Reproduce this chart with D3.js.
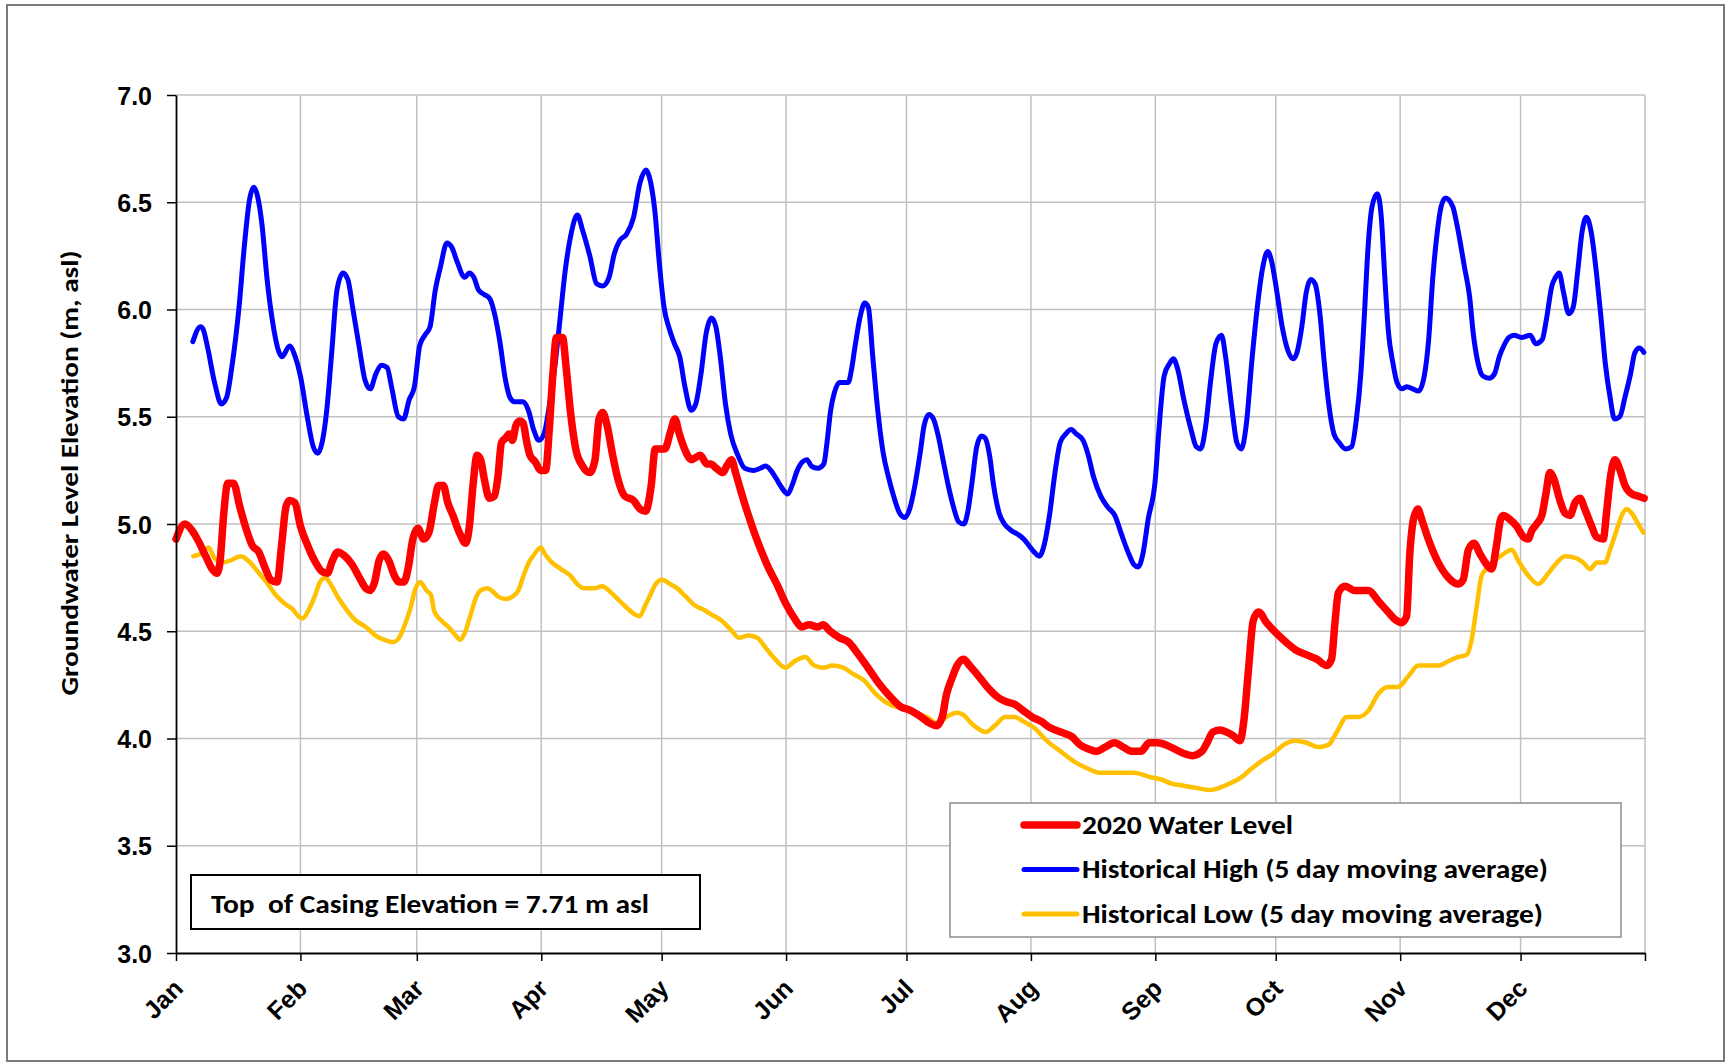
<!DOCTYPE html>
<html>
<head>
<meta charset="utf-8">
<script src="https://cdn.jsdelivr.net/npm/d3@7"></script>
<style>
  body { margin: 0; background: #fff; }
  svg { display: block; }
  .tick-label { font-family: "Liberation Sans", Arial, sans-serif; font-weight: bold; font-size: 25px; fill: #000; }
  .cal { font-family: Calibri, Carlito, Lato, sans-serif; font-weight: bold; fill: #000; }
</style>
</head>
<body>
<svg id="chart" width="1726" height="1064"></svg>
<script>
// Groundwater level chart, 2020 vs historical high / low (5 day moving average)
// Points are [day of year, elevation m asl].

const monthLabels = ["Jan", "Feb", "Mar", "Apr", "May", "Jun", "Jul", "Aug", "Sep", "Oct", "Nov", "Dec", ""];
const yTicks = [3.0, 3.5, 4.0, 4.5, 5.0, 5.5, 6.0, 6.5, 7.0];
const seriesNames = ["2020 Water Level", "Historical High (5 day moving average)", "Historical Low (5 day moving average)"];
const casingNote = "Top  of Casing Elevation = 7.71 m asl";
const yTitle = "Groundwater Level Elevation (m, asl)";

const level2020 = [
  [0,4.93],[2.2,5.00],[4.0,4.97],[5.6,4.92],[7.4,4.85],[9.0,4.79],[10.2,4.77],[11.0,4.83],[11.9,5.05],[12.9,5.19],
  [14.3,5.19],[15.9,5.08],[17.6,4.97],[19.0,4.90],[20.6,4.87],[22.1,4.80],[23.6,4.74],[25.2,4.73],[26.3,4.90],[27.4,5.08],
  [28.3,5.11],[29.6,5.10],[31.0,4.99],[32.8,4.90],[34.5,4.83],[36.3,4.78],[37.7,4.77],[39.0,4.83],[40.3,4.87],[42.1,4.85],
  [43.9,4.81],[45.7,4.75],[47.3,4.70],[48.3,4.69],[49.5,4.73],[50.6,4.83],[51.7,4.86],[53.0,4.83],[54.4,4.76],[55.6,4.73],
  [56.8,4.73],[57.9,4.80],[59.0,4.93],[60.3,4.98],[61.7,4.93],[63.0,4.96],[64.4,5.10],[65.4,5.18],[66.6,5.18],[67.7,5.10],
  [69.0,5.04],[70.6,4.96],[72.2,4.91],[73.1,4.99],[74.0,5.18],[75.0,5.32],[75.9,5.30],[76.8,5.21],[78.1,5.12],[79.3,5.13],
  [80.2,5.22],[81.1,5.38],[82.1,5.40],[83.0,5.42],[83.8,5.39],[84.7,5.46],[85.6,5.48],[86.5,5.47],[87.3,5.39],[88.2,5.32],
  [89.5,5.29],[90.8,5.25],[92.1,5.25],[93.0,5.44],[93.9,5.70],[94.8,5.87],[96.3,5.87],[97.2,5.73],[98.3,5.52],[99.6,5.35],
  [101.3,5.27],[103.1,5.24],[104.4,5.30],[105.4,5.49],[106.3,5.52],[107.4,5.46],[108.7,5.33],[110.1,5.21],[111.8,5.13],[114.0,5.11],
  [115.6,5.07],[117.0,5.06],[118.4,5.18],[119.4,5.35],[120.5,5.35],[121.8,5.35],[123.2,5.43],[124.3,5.49],[125.4,5.42],[126.7,5.35],
  [128.4,5.30],[130.6,5.32],[132.3,5.28],[133.2,5.28],[134.6,5.26],[136.3,5.24],[137.2,5.27],[138.4,5.30],[139.4,5.24],[140.8,5.15],
  [142.1,5.07],[143.9,4.97],[145.7,4.88],[147.5,4.80],[149.7,4.72],[151.9,4.63],[154.1,4.56],[155.9,4.52],[157.7,4.53],[159.9,4.52],
  [161.2,4.53],[163.0,4.50],[165.3,4.47],[167.5,4.45],[169.7,4.40],[172.4,4.33],[175.0,4.26],[177.7,4.20],[180.4,4.15],[183.1,4.13],
  [185.7,4.10],[187.9,4.07],[189.5,4.06],[190.9,4.10],[191.9,4.20],[193.3,4.28],[194.6,4.34],[196.2,4.37],[197.7,4.34],[200.0,4.29],
  [202.6,4.23],[204.9,4.19],[207.1,4.17],[208.9,4.16],[211.1,4.13],[213.3,4.10],[215.5,4.08],[217.8,4.05],[220.4,4.03],[223.1,4.01],
  [225.3,3.97],[227.5,3.95],[229.3,3.94],[231.5,3.96],[233.8,3.98],[236.0,3.96],[238.2,3.94],[240.4,3.94],[242.5,3.98],[244.4,3.98],
  [246.7,3.97],[248.9,3.95],[251.1,3.93],[253.3,3.92],[255.6,3.94],[256.9,3.98],[258.3,4.03],[260.0,4.04],[261.8,4.03],[263.6,4.01],
  [265.1,3.99],[266.1,4.09],[267.2,4.32],[268.4,4.55],[269.7,4.59],[271.7,4.54],[274.2,4.49],[277.1,4.44],[279.2,4.41],[281.7,4.39],
  [284.2,4.37],[286.7,4.34],[287.9,4.37],[288.8,4.55],[289.6,4.68],[291.3,4.71],[293.7,4.69],[297.1,4.69],[299.6,4.64],[302.0,4.59],
  [304.1,4.55],[305.4,4.54],[306.6,4.57],[307.4,4.86],[308.3,5.02],[309.4,5.07],[310.4,5.02],[312.0,4.93],[314.5,4.82],[317.0,4.75],
  [319.5,4.72],[320.7,4.74],[322.0,4.88],[323.4,4.91],[324.9,4.86],[326.6,4.81],[327.8,4.79],[329.0,4.90],[330.0,5.02],[330.7,5.04],
  [332.4,5.02],[334.0,4.99],[335.7,4.94],[336.9,4.93],[337.8,4.97],[339.0,5.00],[340.3,5.04],[341.3,5.14],[342.3,5.24],[343.3,5.21],
  [344.8,5.11],[346.1,5.05],[347.3,5.04],[348.6,5.10],[349.8,5.12],[351.0,5.07],[352.7,4.99],[353.9,4.94],[355.6,4.93],[356.4,5.05],
  [357.4,5.22],[358.5,5.30],[359.8,5.25],[361.0,5.18],[362.7,5.14],[364.3,5.13],[365.8,5.12]
];

const historicalHigh = [
  [4.2,5.85],[6.1,5.92],[6.7,5.91],[7.8,5.83],[9.6,5.66],[11.3,5.56],[12.6,5.59],[13.9,5.73],[15.7,6.01],[17.0,6.29],
  [18.3,6.51],[19.4,6.57],[20.3,6.53],[21.4,6.40],[22.7,6.14],[24.0,5.95],[25.5,5.81],[26.4,5.78],[28.3,5.83],[29.7,5.78],
  [31.0,5.69],[32.7,5.50],[34.2,5.36],[35.3,5.33],[36.4,5.38],[37.5,5.52],[38.8,5.80],[40.1,6.09],[41.6,6.17],[42.8,6.14],
  [44.1,6.00],[45.6,5.83],[47.1,5.67],[48.4,5.63],[49.8,5.70],[51.2,5.74],[52.6,5.73],[53.7,5.64],[55.4,5.50],[56.7,5.49],
  [58.1,5.58],[59.4,5.64],[60.7,5.83],[62.0,5.88],[63.3,5.92],[64.6,6.09],[65.9,6.20],[67.5,6.31],[68.7,6.29],[70.1,6.22],
  [71.9,6.15],[73.1,6.17],[74.2,6.15],[75.4,6.09],[76.8,6.07],[78.2,6.05],[79.5,5.97],[80.6,5.86],[82.1,5.67],[83.2,5.59],
  [84.3,5.57],[86.5,5.57],[87.8,5.53],[89.1,5.44],[90.4,5.39],[91.7,5.42],[93.0,5.55],[94.3,5.72],[95.6,5.94],[96.9,6.17],
  [98.3,6.34],[100.0,6.44],[101.3,6.37],[103.1,6.25],[104.8,6.12],[106.3,6.11],[107.9,6.15],[109.2,6.26],[110.5,6.32],[112.2,6.35],
  [114.0,6.43],[115.6,6.59],[117.1,6.65],[117.9,6.62],[119.3,6.46],[120.4,6.22],[121.6,6.01],[122.9,5.91],[124.2,5.84],[125.5,5.78],
  [126.8,5.64],[128.4,5.53],[129.5,5.56],[130.8,5.70],[132.1,5.89],[133.4,5.96],[134.5,5.92],[135.6,5.78],[136.9,5.56],[138.2,5.42],
  [140.0,5.32],[141.7,5.26],[143.9,5.25],[145.6,5.26],[146.9,5.27],[148.2,5.25],[149.6,5.21],[150.9,5.17],[152.4,5.14],[153.5,5.18],
  [154.8,5.25],[156.1,5.29],[157.2,5.30],[158.3,5.27],[159.9,5.26],[161.4,5.28],[162.2,5.38],[163.1,5.53],[164.0,5.61],[165.3,5.66],
  [167.5,5.66],[168.3,5.72],[169.2,5.83],[170.5,5.97],[171.6,6.03],[172.5,6.01],[173.6,5.78],[174.9,5.52],[176.2,5.33],[177.5,5.22],
  [178.8,5.13],[180.3,5.05],[181.6,5.03],[182.8,5.07],[184.1,5.18],[185.4,5.33],[186.4,5.46],[187.6,5.51],[188.7,5.49],[189.8,5.42],
  [191.1,5.30],[192.4,5.18],[193.7,5.08],[195.0,5.01],[196.3,5.00],[197.2,5.05],[198.3,5.19],[199.5,5.36],[200.7,5.41],[201.6,5.40],
  [202.7,5.32],[203.7,5.18],[205.1,5.05],[206.4,5.00],[208.1,4.97],[209.9,4.95],[211.2,4.93],[212.5,4.90],[213.8,4.87],[215.1,4.85],
  [216.4,4.91],[217.7,5.05],[219.0,5.24],[220.3,5.38],[221.7,5.42],[223.0,5.44],[224.3,5.42],[226.0,5.39],[227.3,5.32],[228.6,5.22],
  [230.4,5.13],[232.1,5.08],[233.9,5.04],[235.6,4.95],[237.4,4.86],[238.7,4.81],[239.7,4.80],[240.9,4.86],[242.2,5.02],[244.0,5.21],
  [244.9,5.44],[246.2,5.69],[247.6,5.75],[248.5,5.77],[249.6,5.72],[251.1,5.58],[252.9,5.44],[254.2,5.36],[255.3,5.35],[256.5,5.45],
  [257.8,5.67],[259.1,5.84],[260.5,5.88],[261.5,5.78],[263.0,5.55],[264.3,5.38],[265.4,5.35],[266.7,5.47],[268.0,5.75],[269.4,6.01],
  [270.7,6.19],[272.0,6.27],[272.9,6.23],[274.3,6.08],[275.6,5.92],[277.0,5.81],[278.3,5.77],[279.3,5.80],[280.5,5.92],[281.6,6.08],
  [282.7,6.14],[283.8,6.12],[285.0,5.98],[286.1,5.75],[287.2,5.56],[288.5,5.42],[289.8,5.38],[291.4,5.35],[292.9,5.36],[294.1,5.49],
  [295.2,5.70],[296.1,5.98],[297.0,6.29],[298.0,6.48],[299.3,6.54],[300.3,6.43],[301.2,6.14],[302.1,5.89],[303.2,5.75],[304.2,5.66],
  [305.4,5.63],[306.7,5.64],[308.1,5.63],[309.6,5.62],[311.0,5.69],[312.1,5.86],[313.1,6.14],[314.3,6.37],[315.2,6.48],[316.3,6.52],
  [318.1,6.48],[319.2,6.39],[321.0,6.20],[322.3,6.06],[323.2,5.89],[324.4,5.75],[325.6,5.69],[327.2,5.68],[328.5,5.70],[329.7,5.78],
  [330.8,5.83],[332.1,5.87],[333.4,5.88],[335.2,5.87],[337.4,5.88],[338.8,5.84],[340.4,5.86],[341.4,5.95],[342.8,6.11],[343.7,6.15],
  [344.6,6.17],[345.7,6.08],[347.0,5.98],[348.1,6.01],[349.3,6.19],[350.3,6.36],[351.4,6.43],[352.6,6.36],[353.9,6.17],[355.0,5.97],
  [356.1,5.75],[357.3,5.59],[358.4,5.49],[359.7,5.50],[361.0,5.59],[362.4,5.70],[363.5,5.80],[364.6,5.82],[365.7,5.80]
];

const historicalLow = [
  [4.3,4.85],[6.1,4.86],[8.1,4.89],[9.6,4.84],[11.4,4.82],[13.6,4.83],[16.1,4.85],[18.5,4.82],[20.3,4.78],[22.5,4.73],
  [24.8,4.67],[27.0,4.63],[29.2,4.60],[30.5,4.57],[31.6,4.56],[32.8,4.59],[34.5,4.66],[35.9,4.73],[37.2,4.75],[38.5,4.72],
  [40.3,4.66],[42.5,4.60],[44.8,4.55],[47.3,4.52],[49.7,4.48],[51.9,4.46],[54.1,4.45],[55.9,4.48],[57.2,4.54],[58.6,4.62],
  [59.5,4.69],[60.8,4.73],[62.4,4.69],[63.5,4.67],[64.4,4.59],[66.1,4.55],[67.9,4.52],[69.7,4.48],[70.8,4.46],[71.9,4.49],
  [73.3,4.57],[74.6,4.65],[75.9,4.69],[77.5,4.70],[78.6,4.69],[80.4,4.66],[82.1,4.65],[83.7,4.66],[85.3,4.69],[86.6,4.76],
  [87.9,4.82],[89.3,4.86],[90.9,4.89],[91.9,4.86],[93.7,4.82],[95.9,4.79],[98.2,4.76],[100.0,4.72],[101.7,4.70],[104.0,4.70],
  [106.2,4.71],[108.4,4.68],[110.6,4.64],[112.9,4.60],[114.2,4.58],[115.5,4.57],[116.9,4.62],[118.2,4.67],[119.5,4.72],[121.1,4.74],
  [123.1,4.72],[124.9,4.70],[127.1,4.66],[129.3,4.62],[131.5,4.60],[133.2,4.58],[135.9,4.55],[138.1,4.51],[140.3,4.47],[142.6,4.48],
  [144.8,4.47],[146.6,4.43],[148.8,4.38],[151.9,4.33],[154.1,4.36],[156.8,4.38],[159.0,4.34],[161.3,4.33],[163.5,4.34],[166.2,4.33],
  [168.8,4.30],[171.5,4.27],[174.2,4.21],[176.8,4.17],[179.0,4.15],[182.2,4.14],[184.4,4.12],[187.1,4.10],[189.7,4.07],[191.9,4.10],
  [194.6,4.12],[196.2,4.11],[198.2,4.07],[200.4,4.04],[201.7,4.03],[204.0,4.06],[206.6,4.10],[208.9,4.10],[211.1,4.08],[213.8,4.05],
  [216.9,3.99],[220.4,3.94],[224.0,3.89],[227.1,3.86],[230.2,3.84],[234.2,3.84],[238.7,3.84],[242.7,3.82],[245.3,3.81],[248.0,3.79],
  [251.0,3.78],[254.0,3.77],[257.5,3.76],[260.0,3.77],[262.5,3.79],[265.5,3.82],[268.0,3.86],[270.9,3.90],[273.4,3.93],[275.9,3.97],
  [278.8,3.99],[281.7,3.98],[284.6,3.96],[287.1,3.97],[289.2,4.03],[291.7,4.10],[294.6,4.10],[297.1,4.13],[299.6,4.21],[302.0,4.24],
  [304.5,4.24],[307.0,4.29],[309.5,4.34],[312.0,4.34],[314.5,4.34],[317.0,4.36],[319.5,4.38],[321.6,4.39],[322.8,4.46],[324.1,4.62],
  [325.3,4.76],[326.5,4.79],[328.6,4.83],[330.7,4.86],[332.8,4.88],[334.4,4.83],[336.9,4.76],[339.4,4.72],[341.5,4.76],[343.6,4.81],
  [346.1,4.85],[349.0,4.84],[350.6,4.82],[352.3,4.79],[354.0,4.82],[356.0,4.82],[357.3,4.88],[358.9,4.97],[360.2,5.04],[361.4,5.07],
  [362.7,5.05],[364.3,5.00],[365.6,4.96]
];

const series = [level2020, historicalHigh, historicalLow];

// styles
const colors = ["#ff0000", "#0000ff", "#ffc000"];
const widths = [7.5, 5, 4.5];

const svg = d3.select("#chart");
const plot = { left: 176, right: 1645, top: 95, bottom: 953 };

const day0 = new Date(2020, 0, 1);
const toDate = (d) => new Date(day0.getTime() + d * 864e5);

const x = d3.scaleTime()
  .domain([day0, new Date(2021, 0, 1)])
  .range([plot.left, plot.right]);

const y = d3.scaleLinear()
  .domain([3, 7])
  .range([plot.bottom, plot.top]);

const monthTicks = d3.timeMonth.range(day0, new Date(2021, 0, 2));

// outer frame
svg.append("rect")
  .attr("x", 7).attr("y", 5)
  .attr("width", 1717).attr("height", 1056)
  .attr("fill", "#fff")
  .attr("stroke", "#7a7a7a")
  .attr("stroke-width", 2);

// gridlines
const grid = svg.append("g").attr("stroke", "#c0c0c0").attr("stroke-width", 1.5);
grid.selectAll("line.h")
  .data(yTicks.filter((v) => v > 3))
  .join("line")
  .attr("class", "h")
  .attr("x1", plot.left).attr("x2", plot.right)
  .attr("y1", (d) => y(d)).attr("y2", (d) => y(d));
grid.selectAll("line.v")
  .data(monthTicks.slice(1))
  .join("line")
  .attr("class", "v")
  .attr("x1", (d) => x(d)).attr("x2", (d) => x(d))
  .attr("y1", plot.top).attr("y2", plot.bottom);

// data lines (historical first, 2020 on top)
const lineGen = d3.line()
  .x((d) => x(toDate(d[0])))
  .y((d) => y(d[1]))
  .curve(d3.curveMonotoneX);

const order = [2, 1, 0];
svg.append("g")
  .selectAll("path")
  .data(order)
  .join("path")
  .attr("d", (i) => lineGen(series[i]))
  .attr("fill", "none")
  .attr("stroke", (i) => colors[i])
  .attr("stroke-width", (i) => widths[i])
  .attr("stroke-linejoin", "round")
  .attr("stroke-linecap", "round");

// casing elevation note
const note = svg.append("g");
note.append("rect")
  .attr("x", 191).attr("y", 875)
  .attr("width", 509).attr("height", 54)
  .attr("fill", "#fff")
  .attr("stroke", "#000")
  .attr("stroke-width", 2);
note.append("text")
  .attr("class", "cal")
  .attr("x", 211).attr("y", 913)
  .attr("font-size", 27)
  .attr("textLength", 438)
  .attr("lengthAdjust", "spacingAndGlyphs")
  .attr("xml:space", "preserve")
  .style("white-space", "pre")
  .text(casingNote);

// legend
const legend = svg.append("g");
legend.append("rect")
  .attr("x", 950).attr("y", 803)
  .attr("width", 671).attr("height", 134)
  .attr("fill", "#fff")
  .attr("stroke", "#8c8c8c")
  .attr("stroke-width", 1.5);

const legendWidths = [211, 466, 461];
const rows = legend.selectAll("g.row")
  .data(seriesNames)
  .join("g")
  .attr("class", "row")
  .attr("transform", (d, i) => `translate(0,${825 + i * 44.5})`);
rows.append("line")
  .attr("x1", 1024).attr("x2", 1077)
  .attr("stroke", (d, i) => colors[i])
  .attr("stroke-width", (d, i) => (i === 0 ? 7.5 : 5))
  .attr("stroke-linecap", "round");
rows.append("text")
  .attr("class", "cal")
  .attr("x", 1082).attr("y", 8.5)
  .attr("font-size", 27)
  .attr("textLength", (d, i) => legendWidths[i])
  .attr("lengthAdjust", "spacingAndGlyphs")
  .text((d) => d);

// axes
const yAxis = svg.append("g")
  .attr("transform", `translate(${plot.left},0)`)
  .call(d3.axisLeft(y).tickValues(yTicks).tickFormat(d3.format(".1f")).tickSize(9).tickSizeOuter(0).tickPadding(15));

const xAxis = svg.append("g")
  .attr("transform", `translate(0,${plot.bottom})`)
  .call(d3.axisBottom(x).tickValues(monthTicks).tickSize(8).tickSizeOuter(0)
    .tickFormat((d, i) => monthLabels[i]));

[yAxis, xAxis].forEach((ax) => {
  ax.select(".domain").attr("stroke", "#000").attr("stroke-width", 1.8);
  ax.selectAll(".tick line").attr("stroke", "#000").attr("stroke-width", 1.5);
  ax.selectAll(".tick text").attr("class", "tick-label").attr("font-size", null).attr("font-family", null);
});
yAxis.selectAll(".tick text").attr("dy", "0.36em");
xAxis.selectAll(".tick text")
  .attr("text-anchor", "end")
  .attr("x", 0).attr("y", 0).attr("dy", null)
  .attr("transform", "translate(8,37) rotate(-45)");

// y axis title
svg.append("text")
  .attr("class", "cal")
  .attr("transform", "translate(78,473) rotate(-90)")
  .attr("text-anchor", "middle")
  .attr("font-size", 24)
  .attr("textLength", 445)
  .attr("lengthAdjust", "spacingAndGlyphs")
  .text(yTitle);
</script>
</body>
</html>
